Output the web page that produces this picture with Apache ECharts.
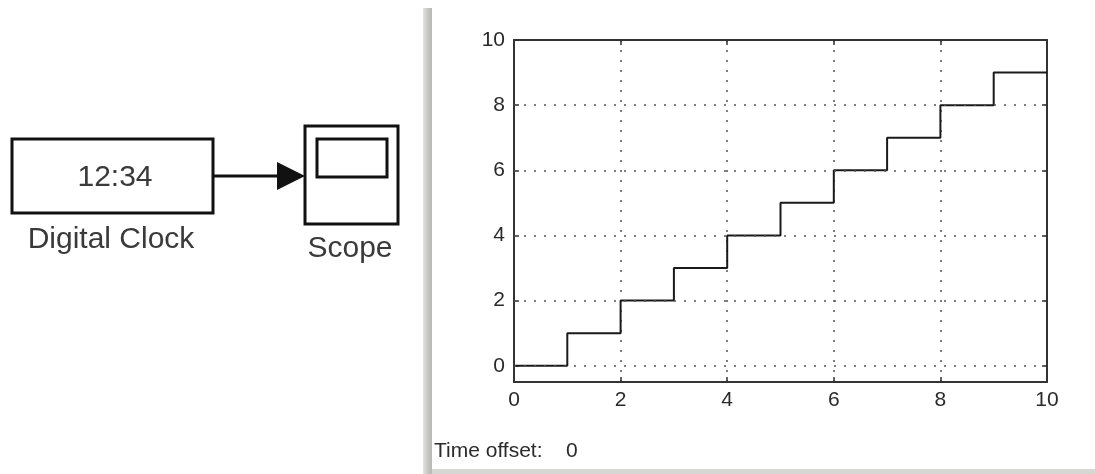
<!DOCTYPE html>
<html>
<head>
<meta charset="utf-8">
<script src="https://cdn.jsdelivr.net/npm/echarts@6/dist/echarts.min.js"></script>
<style>
  html, body { margin: 0; padding: 0; background: #fff; }
  #chart { width: 1095px; height: 474px; }
</style>
</head>
<body>
<div id="chart"></div>
<script>
// Simulation time and the Digital Clock output held over each step
const times = [0, 1, 2, 3, 4, 5, 6, 7, 8, 9, 10];
const clockValues = [0, 1, 2, 3, 4, 5, 6, 7, 8, 9, 9];
const xTicks = [0, 2, 4, 6, 8, 10];
const yTicks = [0, 2, 4, 6, 8, 10];
const timeOffset = 0;

const font = 'Liberation Sans, Arial, sans-serif';
const ink = '#2a2a2a';

const chart = echarts.init(document.getElementById('chart'), null, { renderer: 'canvas' });

const dotStyle = { color: '#555', type: [2, 8], width: 1.5 };
const frameLine = { show: true, onZero: false, lineStyle: { color: '#333', width: 2 } };
const tickIn = { show: true, inside: true, length: 5, lineStyle: { color: '#333', width: 1.5 } };

chart.setOption({
  animation: false,
  grid: { left: 514, right: 48, top: 40, bottom: 92, containLabel: false },
  xAxis: [
    {
      type: 'value', min: 0, max: 10, interval: 2,
      axisLine: frameLine, axisTick: tickIn,
      axisLabel: { color: ink, fontSize: 21, fontFamily: font, margin: 8 },
      splitLine: { show: true, lineStyle: dotStyle }
    },
    {
      type: 'value', position: 'top', min: 0, max: 10, interval: 2,
      axisLine: frameLine, axisTick: tickIn, axisLabel: { show: false }, splitLine: { show: false }
    }
  ],
  yAxis: [
    {
      type: 'value', min: -0.5, max: 10,
      axisLine: frameLine,
      axisTick: Object.assign({ customValues: yTicks }, tickIn),
      axisLabel: { customValues: yTicks, color: ink, fontSize: 21, fontFamily: font, margin: 9 },
      splitLine: { show: false }
    },
    {
      type: 'value', position: 'right', min: -0.5, max: 10,
      axisLine: frameLine,
      axisTick: Object.assign({ customValues: yTicks }, tickIn),
      axisLabel: { show: false }, splitLine: { show: false }
    }
  ],
  series: [{
    type: 'line',
    step: 'end',
    data: times.map((t, i) => [t, clockValues[i]]),
    showSymbol: false,
    lineStyle: { color: '#1a1a1a', width: 2 },
    silent: true,
    markLine: {
      silent: true, symbol: 'none', label: { show: false },
      lineStyle: dotStyle,
      data: yTicks.filter(v => v < 10).map(v => ({ yAxis: v }))
    },
    z: 3
  }],
  graphic: [
    // panel separator and bottom edge
    { type: 'rect', shape: { x: 423, y: 8, width: 9, height: 466 },
      style: { fill: new echarts.graphic.LinearGradient(0, 0, 1, 0, [
        { offset: 0, color: '#e4e4e4' }, { offset: 0.5, color: '#c8c8c4' }, { offset: 1, color: '#b8b8b4' }]) } },
    { type: 'rect', shape: { x: 432, y: 469, width: 663, height: 5 }, style: { fill: '#d6d6d2' } },
    // Digital Clock block
    { type: 'rect', shape: { x: 12, y: 139, width: 201, height: 74 },
      style: { fill: '#fff', stroke: '#111', lineWidth: 3 } },
    { type: 'text', x: 115, y: 178, style: { text: '12:34', font: '30px ' + font, fill: '#3a3a3a',
      align: 'center', verticalAlign: 'middle' } },
    { type: 'text', x: 111, y: 240, style: { text: 'Digital Clock', font: '30px ' + font, fill: '#3a3a3a',
      align: 'center', verticalAlign: 'middle' } },
    // signal line and arrowhead
    { type: 'line', shape: { x1: 213, y1: 176, x2: 280, y2: 176 }, style: { stroke: '#111', lineWidth: 3 } },
    { type: 'polygon', shape: { points: [[277, 162], [305, 176], [277, 190]] }, style: { fill: '#111' } },
    // Scope block
    { type: 'rect', shape: { x: 305, y: 126, width: 93, height: 98 },
      style: { fill: '#fff', stroke: '#111', lineWidth: 3 } },
    { type: 'rect', shape: { x: 317, y: 139, width: 70, height: 38 },
      style: { fill: '#fff', stroke: '#111', lineWidth: 3 } },
    { type: 'text', x: 350, y: 249, style: { text: 'Scope', font: '30px ' + font, fill: '#3a3a3a',
      align: 'center', verticalAlign: 'middle' } },
    // time offset readout
    { type: 'text', x: 434, y: 451, style: { text: 'Time offset:', font: '21px ' + font, fill: ink,
      verticalAlign: 'middle' } },
    { type: 'text', x: 566, y: 451, style: { text: String(timeOffset), font: '21px ' + font, fill: ink,
      verticalAlign: 'middle' } }
  ]
});
</script>
</body>
</html>
